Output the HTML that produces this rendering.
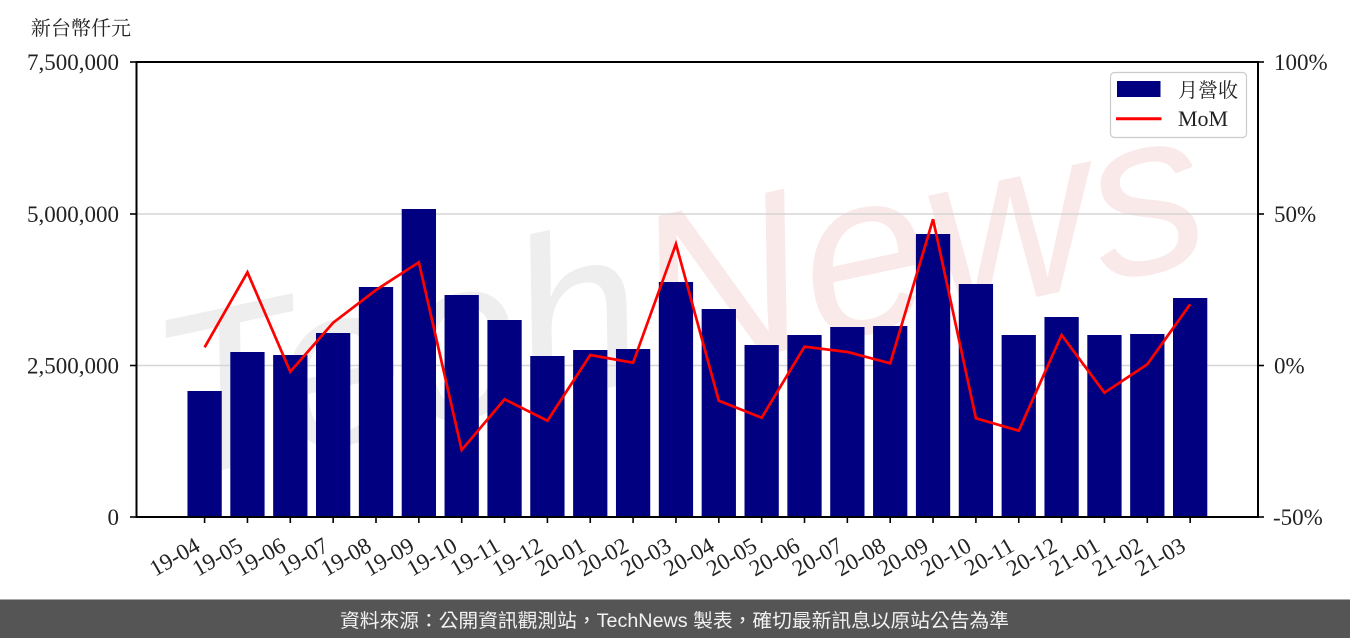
<!DOCTYPE html>
<html lang="zh-TW"><head><meta charset="utf-8"><style>
html,body{margin:0;padding:0;background:#fff;}
svg{display:block;}
</style></head><body>
<svg width="1350" height="638" viewBox="0 0 1350 638" xmlns="http://www.w3.org/2000/svg">
<rect x="0" y="0" width="1350" height="638" fill="#fff"/>
<!-- watermark -->
<text x="175" y="480" transform="rotate(-12 175 480)" font-family="Liberation Sans, sans-serif" font-size="230" font-style="italic"><tspan fill="#eeeeee">Tech</tspan><tspan fill="#fae9e9">News</tspan></text>
<!-- gridlines -->
<line x1="136.5" y1="214" x2="1258" y2="214" stroke="#d6d6d6" stroke-width="1.6"/>
<line x1="136.5" y1="365.5" x2="1258" y2="365.5" stroke="#d6d6d6" stroke-width="1.6"/>
<!-- bars -->
<g fill="#000080">
<rect x="187.46" y="391" width="34.28" height="126"/>
<rect x="230.31" y="352" width="34.28" height="165"/>
<rect x="273.16" y="355" width="34.28" height="162"/>
<rect x="316.01" y="333" width="34.28" height="184"/>
<rect x="358.86" y="287" width="34.28" height="230"/>
<rect x="401.71" y="209" width="34.28" height="308"/>
<rect x="444.56" y="295" width="34.28" height="222"/>
<rect x="487.41" y="320" width="34.28" height="197"/>
<rect x="530.26" y="356" width="34.28" height="161"/>
<rect x="573.11" y="350" width="34.28" height="167"/>
<rect x="615.96" y="349" width="34.28" height="168"/>
<rect x="658.81" y="282" width="34.28" height="235"/>
<rect x="701.66" y="309" width="34.28" height="208"/>
<rect x="744.51" y="345" width="34.28" height="172"/>
<rect x="787.36" y="335" width="34.28" height="182"/>
<rect x="830.21" y="327" width="34.28" height="190"/>
<rect x="873.06" y="326" width="34.28" height="191"/>
<rect x="915.91" y="234" width="34.28" height="283"/>
<rect x="958.76" y="284" width="34.28" height="233"/>
<rect x="1001.61" y="335" width="34.28" height="182"/>
<rect x="1044.46" y="317" width="34.28" height="200"/>
<rect x="1087.31" y="335" width="34.28" height="182"/>
<rect x="1130.16" y="334" width="34.28" height="183"/>
<rect x="1173.01" y="298" width="34.28" height="219"/>
</g>
<!-- MoM line -->
<polyline fill="none" stroke="#ff0000" stroke-width="2.7" stroke-linejoin="miter" points="204.6,347.3 247.45,272.3 290.3,371.7 333.15,322.7 376,290 418.85,262.3 461.7,450 504.55,399.3 547.4,420.7 590.25,355 633.1,362.7 675.95,244 718.8,400.7 761.65,417.7 804.5,346.7 847.35,352 890.2,363.3 933.05,219.3 975.9,418.3 1018.75,430.7 1061.6,335 1104.45,392.7 1147.3,364.3 1190.15,304.3"/>
<!-- spines -->
<rect x="136.5" y="62" width="1121.5" height="455" fill="none" stroke="#000" stroke-width="2"/>
<!-- y ticks -->
<g stroke="#000" stroke-width="1.6">
<line x1="130" y1="62" x2="136" y2="62"/>
<line x1="130" y1="214" x2="136" y2="214"/>
<line x1="130" y1="365.5" x2="136" y2="365.5"/>
<line x1="130" y1="517" x2="136" y2="517"/>
<line x1="1258" y1="62" x2="1264" y2="62"/>
<line x1="1258" y1="214" x2="1264" y2="214"/>
<line x1="1258" y1="365.5" x2="1264" y2="365.5"/>
<line x1="1258" y1="517" x2="1264" y2="517"/>
</g>
<!-- x ticks -->
<g stroke="#000" stroke-width="1.6">
<line x1="204.6" y1="517" x2="204.6" y2="523"/>
<line x1="247.45" y1="517" x2="247.45" y2="523"/>
<line x1="290.3" y1="517" x2="290.3" y2="523"/>
<line x1="333.15" y1="517" x2="333.15" y2="523"/>
<line x1="376" y1="517" x2="376" y2="523"/>
<line x1="418.85" y1="517" x2="418.85" y2="523"/>
<line x1="461.7" y1="517" x2="461.7" y2="523"/>
<line x1="504.55" y1="517" x2="504.55" y2="523"/>
<line x1="547.4" y1="517" x2="547.4" y2="523"/>
<line x1="590.25" y1="517" x2="590.25" y2="523"/>
<line x1="633.1" y1="517" x2="633.1" y2="523"/>
<line x1="675.95" y1="517" x2="675.95" y2="523"/>
<line x1="718.8" y1="517" x2="718.8" y2="523"/>
<line x1="761.65" y1="517" x2="761.65" y2="523"/>
<line x1="804.5" y1="517" x2="804.5" y2="523"/>
<line x1="847.35" y1="517" x2="847.35" y2="523"/>
<line x1="890.2" y1="517" x2="890.2" y2="523"/>
<line x1="933.05" y1="517" x2="933.05" y2="523"/>
<line x1="975.9" y1="517" x2="975.9" y2="523"/>
<line x1="1018.75" y1="517" x2="1018.75" y2="523"/>
<line x1="1061.6" y1="517" x2="1061.6" y2="523"/>
<line x1="1104.45" y1="517" x2="1104.45" y2="523"/>
<line x1="1147.3" y1="517" x2="1147.3" y2="523"/>
<line x1="1190.15" y1="517" x2="1190.15" y2="523"/>
</g>
<!-- left y labels -->
<g font-family="Liberation Serif, serif" font-size="23" fill="#222" text-anchor="end">
<text x="119" y="70">7,500,000</text>
<text x="119" y="222">5,000,000</text>
<text x="119" y="373.5">2,500,000</text>
<text x="119" y="525">0</text>
</g>
<!-- right y labels -->
<g font-family="Liberation Serif, serif" font-size="23" fill="#222">
<text x="1274" y="70">100%</text>
<text x="1274" y="222">50%</text>
<text x="1274" y="373.5">0%</text>
<text x="1273" y="525">-50%</text>
</g>
<!-- x labels -->
<g font-family="Liberation Serif, serif" font-size="23" fill="#222" text-anchor="end">
<text x="201.6" y="550" transform="rotate(-30 201.6 550)">19-04</text>
<text x="244.45" y="550" transform="rotate(-30 244.45 550)">19-05</text>
<text x="287.3" y="550" transform="rotate(-30 287.3 550)">19-06</text>
<text x="330.15" y="550" transform="rotate(-30 330.15 550)">19-07</text>
<text x="373" y="550" transform="rotate(-30 373 550)">19-08</text>
<text x="415.85" y="550" transform="rotate(-30 415.85 550)">19-09</text>
<text x="458.7" y="550" transform="rotate(-30 458.7 550)">19-10</text>
<text x="501.55" y="550" transform="rotate(-30 501.55 550)">19-11</text>
<text x="544.4" y="550" transform="rotate(-30 544.4 550)">19-12</text>
<text x="587.25" y="550" transform="rotate(-30 587.25 550)">20-01</text>
<text x="630.1" y="550" transform="rotate(-30 630.1 550)">20-02</text>
<text x="672.95" y="550" transform="rotate(-30 672.95 550)">20-03</text>
<text x="715.8" y="550" transform="rotate(-30 715.8 550)">20-04</text>
<text x="758.65" y="550" transform="rotate(-30 758.65 550)">20-05</text>
<text x="801.5" y="550" transform="rotate(-30 801.5 550)">20-06</text>
<text x="844.35" y="550" transform="rotate(-30 844.35 550)">20-07</text>
<text x="887.2" y="550" transform="rotate(-30 887.2 550)">20-08</text>
<text x="930.05" y="550" transform="rotate(-30 930.05 550)">20-09</text>
<text x="972.9" y="550" transform="rotate(-30 972.9 550)">20-10</text>
<text x="1015.75" y="550" transform="rotate(-30 1015.75 550)">20-11</text>
<text x="1058.6" y="550" transform="rotate(-30 1058.6 550)">20-12</text>
<text x="1101.45" y="550" transform="rotate(-30 1101.45 550)">21-01</text>
<text x="1144.3" y="550" transform="rotate(-30 1144.3 550)">21-02</text>
<text x="1187.15" y="550" transform="rotate(-30 1187.15 550)">21-03</text>
</g>
<!-- unit title -->
<text x="31" y="35" font-family="Liberation Serif, 'Noto Serif CJK TC', 'Noto Serif CJK SC', serif" font-size="20" fill="#222">新台幣仟元</text>
<!-- legend -->
<rect x="1110.5" y="72.5" width="136" height="65" rx="4" ry="4" fill="#fff" fill-opacity="0.85" stroke="#cccccc" stroke-width="1.2"/>
<rect x="1117" y="81" width="43.5" height="16" fill="#000080"/>
<line x1="1116" y1="118.7" x2="1161.5" y2="118.7" stroke="#ff0000" stroke-width="3"/>
<text x="1178" y="97" font-family="Liberation Serif, 'Noto Serif CJK TC', 'Noto Serif CJK SC', serif" font-size="20" fill="#222">月營收</text>
<text x="1178" y="126" font-family="Liberation Serif, serif" font-size="22" fill="#222">MoM</text>
<!-- footer -->
<rect x="0" y="599.5" width="1350" height="38.5" fill="#555555"/>
<text lang="zh-TW" x="340" y="627" textLength="669" lengthAdjust="spacingAndGlyphs" font-family="Liberation Sans, 'Noto Sans CJK TC', sans-serif" font-size="19" fill="#f2f2f2">資料來源：公開資訊觀測站，TechNews 製表，確切最新訊息以原站公告為準</text>
</svg>
</body></html>
